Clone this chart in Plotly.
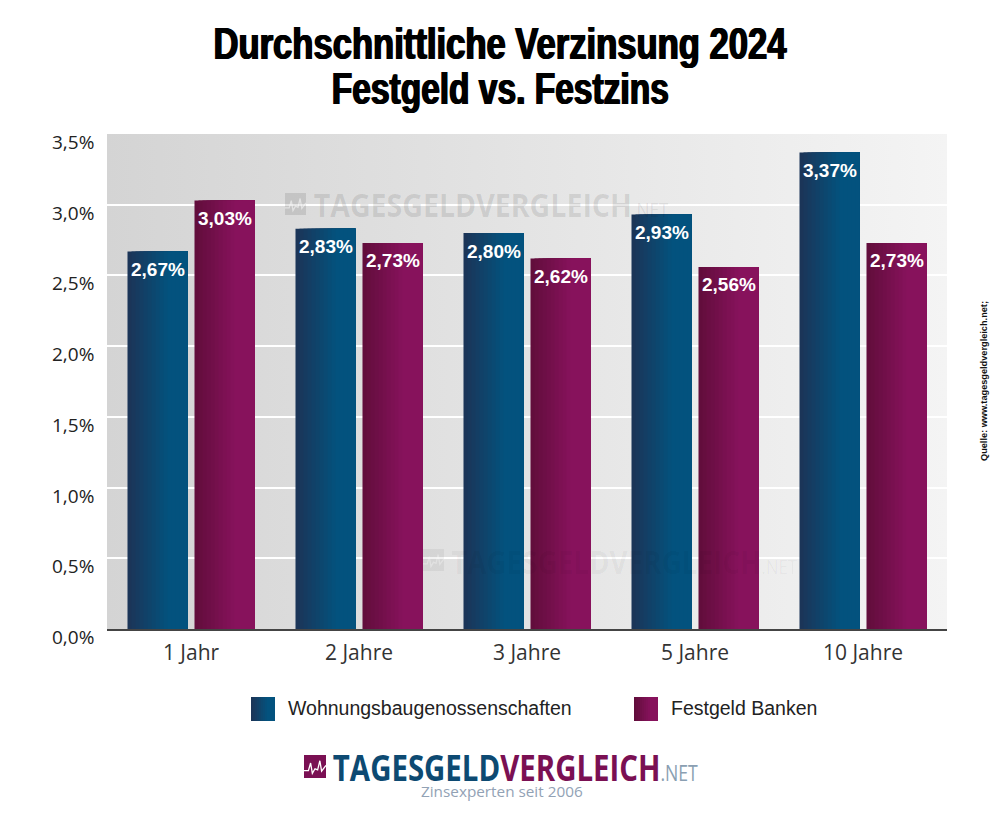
import json
import plotly.graph_objects as go

categories = ["1 Jahr", "2 Jahre", "3 Jahre", "5 Jahre", "10 Jahre"]
wohnungsbau = [2.67, 2.83, 2.80, 2.93, 3.37]
festgeld = [3.03, 2.73, 2.62, 2.56, 2.73]
wohnungsbau_labels = ["2,67%", "2,83%", "2,80%", "2,93%", "3,37%"]
festgeld_labels = ["3,03%", "2,73%", "2,62%", "2,56%", "2,73%"]
y_ticks = [0, 0.5, 1.0, 1.5, 2.0, 2.5, 3.0, 3.5]
y_tick_labels = ["0,0%", "0,5%", "1,0%", "1,5%", "2,0%", "2,5%", "3,0%", "3,5%"]
title_line_1 = "Durchschnittliche Verzinsung 2024"
title_line_2 = "Festgeld vs. Festzins"

L, R, T, B = 107, 947, 134, 629
W, H = 1000, 817
BLUE = ((27, 53, 88), (3, 82, 126))
PLUM = ((98, 13, 60), (135, 18, 92))
STEPS = 15
GRAD_END = 0.65


def px(x):
    return (x - L) / (R - L)


def py(y):
    return (B - y) / (B - T)


def grad(stops, t):
    t = min(t / GRAD_END, 1)
    c = [round(a + (b - a) * t) for a, b in zip(*stops)]
    return f"rgb({c[0]},{c[1]},{c[2]})"


fig = go.Figure()
bar_w = 60 / 168
gap = 7 / 168
for name, vals, stops, start in [
    ("Wohnungsbaugenossenschaften", wohnungsbau, BLUE, -bar_w - gap / 2),
    ("Festgeld Banken", festgeld, PLUM, gap / 2),
]:
    for i in range(STEPS):
        t = i / STEPS
        fig.add_bar(
            x=categories, y=vals, name=name, showlegend=False,
            offset=start + t * bar_w, width=bar_w * (1 - t),
            marker=dict(color=grad(stops, t), line=dict(width=0)),
            hoverinfo="skip",
        )

ann = []
for i, c in enumerate(categories):
    ann.append(dict(x=c, y=wohnungsbau[i], text=wohnungsbau_labels[i], xshift=-33.5, yshift=-18))
    ann.append(dict(x=c, y=festgeld[i], text=festgeld_labels[i], xshift=33.5, yshift=-18))
for a in ann:
    a.update(xref="x", yref="y", showarrow=False,
             font=dict(family="Liberation Sans", size=19, color="white", weight="bold"))

for v, lab in zip(y_ticks, y_tick_labels):
    ann.append(dict(x=0, xref="paper", y=v, yref="y", text=lab, showarrow=False,
                    xanchor="right", xshift=-11, yshift=-8,
                    font=dict(family="Open Sans", size=19, color="#222")))


def text(x, y, s, size, color="#222", family="Liberation Sans", anchor="left", **kw):
    f = dict(family=family, size=size, color=color)
    f.update(kw.pop("font", {}))
    ann.append(dict(x=px(x), y=py(y), xref="paper", yref="paper", text=s, showarrow=False,
                    xanchor=anchor, yanchor="middle", font=f, **kw))


def logo(x, y, size, small, colors, net_color):
    s = (f'<span style="color:{colors[0]}">TAGESGELD</span>'
         f'<span style="color:{colors[1]}">VERGLEICH</span>'
         f'<span style="color:{net_color};font-size:{small}px;font-weight:normal">.NET</span>')
    text(x, y, s, size, family="Open Sans", anchor="center", font=dict(weight="bold"))


HEAVY = "1px 0 0 #000, -1px 0 0 #000"
text(500, 88, title_line_2, 44, "#000", "Liberation Sans", "center", font=dict(weight="bold", shadow=HEAVY))
text(286, 708, "Wohnungsbaugenossenschaften", 19.5, "#222")
text(669, 708, "Festgeld Banken", 19.5, "#222")
text(984, 381, "<b>Quelle: www.tagesgeldvergleich.net;</b>", 9.2, "#111", anchor="center", textangle=-90)
logo(490.5, 204, 33, 20, ("rgba(0,0,0,0.10)", "rgba(0,0,0,0.10)"), "rgba(0,0,0,0.08)")
logo(624, 561, 33, 20, ("rgba(0,0,0,0.045)", "rgba(0,0,0,0.045)"), "rgba(0,0,0,0.045)")
logo(515.5, 767, 35, 21, ("#0d4a72", "#7a1053"), "#8a9fb2")
text(502, 791, "Zinsexperten seit 2006", 15.3, "#92a2b5", "Open Sans", "center")

shapes = []


def box(x0, y0, x1, y1, color, opacity=1):
    shapes.append(dict(type="rect", xref="paper", yref="paper", x0=px(x0), x1=px(x1),
                       y0=py(y1), y1=py(y0), fillcolor=color, line_width=0, layer="above", opacity=opacity))


def icon(x, y, w, h, color, line, opacity=1, line_opacity=1):
    box(x, y, x + w, y + h, color, opacity)
    pts = [(0, .68), (.2, .68), (.3, .35), (.38, .8), (.5, .6), (.62, .65), (.72, .25), (.8, .7), (1, .45)]
    d = "M" + " L".join(f"{px(x + a * w):.5f},{py(y + b * h):.5f}" for a, b in pts)
    shapes.append(dict(type="path", xref="paper", yref="paper", path=d,
                       line=dict(color=line, width=1.3), layer="above", opacity=line_opacity))


for x0, stops in [(251, BLUE), (634, PLUM)]:
    for i in range(12):
        box(x0 + i * 2, 697, x0 + 24, 721, grad(stops, i / 12))
icon(304, 755, 22, 23, "#7a1053", "white")
icon(285, 193, 21, 22, "#000000", "#ffffff", 0.1, 0.5)
icon(423, 549, 21, 22, "#000000", "#ffffff", 0.05, 0.3)

svg = ("data:image/svg+xml;utf8,<svg xmlns='http://www.w3.org/2000/svg' width='840' height='495' "
       "preserveAspectRatio='none'><defs><linearGradient id='g'><stop offset='0' stop-color='%23d4d4d4'/>"
       "<stop offset='1' stop-color='%23f4f4f4'/></linearGradient></defs>"
       "<rect width='840' height='495' fill='url(%23g)'/></svg>")

fig.update_layout(
    width=W, height=H, autosize=False,
    margin=dict(l=L, r=W - R, t=T, b=H - B, pad=0),
    paper_bgcolor="white", plot_bgcolor="rgba(0,0,0,0)",
    barmode="overlay", showlegend=False,
    title=dict(text=title_line_1, x=0.5, xanchor="center",
               y=1 - 44 / H, yanchor="middle",
               font=dict(family="Liberation Sans", size=44, color="#000", weight="bold", shadow=HEAVY)),
    images=[dict(source=svg, xref="paper", yref="paper", x=0, y=1, sizex=1, sizey=1,
                 sizing="stretch", layer="below", xanchor="left", yanchor="top")],
    xaxis=dict(type="category", categoryorder="array", categoryarray=categories,
               showgrid=False, zeroline=False, showline=True, linecolor="#444", linewidth=2,
               ticks="outside", ticklen=4, tickcolor="rgba(0,0,0,0)",
               tickfont=dict(family="Open Sans", size=21, color="#333"),
               range=[-0.5, 4.5]),
    yaxis=dict(range=[0, 3.5], tickvals=y_ticks, showticklabels=False, ticks="",
               showgrid=True, gridcolor="white", gridwidth=2, zeroline=False, showline=False),
    annotations=ann, shapes=shapes,
)

brand = "TAGESGELDVERGLEICH.NET"
squeeze = {title_line_1: 573, title_line_2: 337}
brand_lengths = [355, 346, 365]
post = """
document.body.style.margin = '0';
var squeeze = %s, lens = %s, idx = 0;
document.querySelectorAll('text').forEach(function (t) {
  var k = t.textContent, n = squeeze[k];
  if (k === '%s') { n = lens[idx++]; }
  if (n) {
    t.setAttribute('textLength', n);
    t.setAttribute('lengthAdjust', 'spacingAndGlyphs');
  }
});
""" % (json.dumps(squeeze), json.dumps(brand_lengths), brand)
fig.write_html("out.html", post_script=post, config={"displayModeBar": False})
